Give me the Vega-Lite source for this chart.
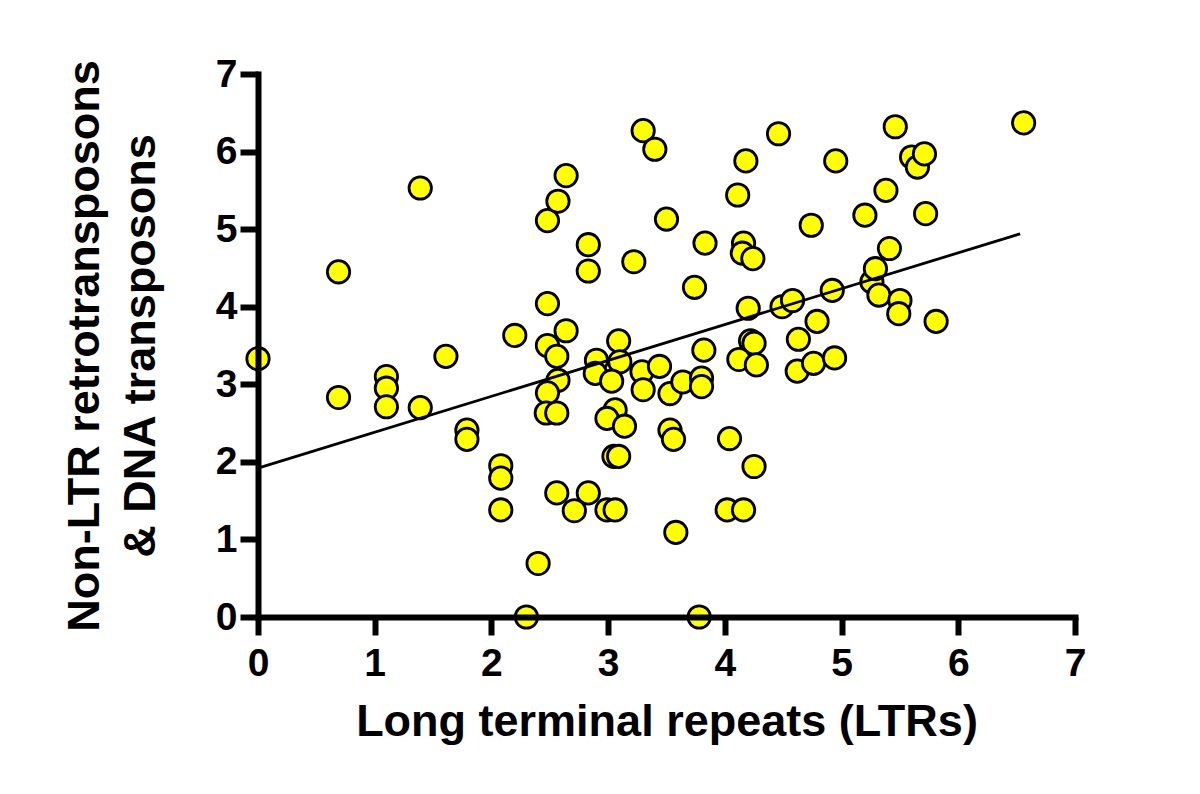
{
  "$schema": "https://vega.github.io/schema/vega-lite/v6.json",
  "width": 817,
  "height": 543,
  "autosize": {"type": "none"},
  "padding": {"left": 258, "top": 74, "right": 125, "bottom": 177},
  "background": "white",
  "config": {"view": {"stroke": null}, "font": "Liberation Sans"},
  "layer": [
    {
      "data": {"values": [
        {"ltr": 0, "nonltr": 3.33},
        {"ltr": 0.69, "nonltr": 4.45},
        {"ltr": 0.69, "nonltr": 2.83},
        {"ltr": 1.10, "nonltr": 3.10},
        {"ltr": 1.10, "nonltr": 2.95},
        {"ltr": 1.10, "nonltr": 2.71},
        {"ltr": 1.39, "nonltr": 5.53},
        {"ltr": 1.39, "nonltr": 2.70},
        {"ltr": 1.61, "nonltr": 3.36},
        {"ltr": 1.79, "nonltr": 2.41},
        {"ltr": 1.79, "nonltr": 2.29},
        {"ltr": 2.08, "nonltr": 1.95},
        {"ltr": 2.08, "nonltr": 1.79},
        {"ltr": 2.08, "nonltr": 1.38},
        {"ltr": 2.20, "nonltr": 3.63},
        {"ltr": 2.30, "nonltr": 0},
        {"ltr": 2.40, "nonltr": 0.69},
        {"ltr": 2.48, "nonltr": 5.11},
        {"ltr": 2.57, "nonltr": 5.36},
        {"ltr": 2.64, "nonltr": 5.69},
        {"ltr": 2.48, "nonltr": 4.04},
        {"ltr": 2.64, "nonltr": 3.69},
        {"ltr": 2.48, "nonltr": 3.50},
        {"ltr": 2.56, "nonltr": 3.36},
        {"ltr": 2.57, "nonltr": 3.05},
        {"ltr": 2.48, "nonltr": 2.89},
        {"ltr": 2.47, "nonltr": 2.63},
        {"ltr": 2.56, "nonltr": 2.63},
        {"ltr": 2.56, "nonltr": 1.60},
        {"ltr": 2.71, "nonltr": 1.37},
        {"ltr": 2.83, "nonltr": 4.80},
        {"ltr": 2.83, "nonltr": 4.46},
        {"ltr": 2.83, "nonltr": 1.60},
        {"ltr": 2.90, "nonltr": 3.31},
        {"ltr": 2.89, "nonltr": 3.14},
        {"ltr": 3.09, "nonltr": 3.56},
        {"ltr": 3.10, "nonltr": 3.29},
        {"ltr": 3.03, "nonltr": 3.04},
        {"ltr": 3.06, "nonltr": 2.67},
        {"ltr": 2.99, "nonltr": 2.56},
        {"ltr": 3.14, "nonltr": 2.46},
        {"ltr": 3.05, "nonltr": 2.07},
        {"ltr": 3.09, "nonltr": 2.07},
        {"ltr": 2.99, "nonltr": 1.38},
        {"ltr": 3.06, "nonltr": 1.38},
        {"ltr": 3.22, "nonltr": 4.58},
        {"ltr": 3.30, "nonltr": 6.27},
        {"ltr": 3.40, "nonltr": 6.03},
        {"ltr": 3.50, "nonltr": 5.13},
        {"ltr": 3.29, "nonltr": 3.16},
        {"ltr": 3.44, "nonltr": 3.23},
        {"ltr": 3.30, "nonltr": 2.93},
        {"ltr": 3.53, "nonltr": 2.88},
        {"ltr": 3.64, "nonltr": 3.03},
        {"ltr": 3.80, "nonltr": 3.08},
        {"ltr": 3.80, "nonltr": 2.97},
        {"ltr": 3.82, "nonltr": 3.44},
        {"ltr": 3.83, "nonltr": 4.82},
        {"ltr": 3.74, "nonltr": 4.25},
        {"ltr": 3.53, "nonltr": 2.41},
        {"ltr": 3.56, "nonltr": 2.29},
        {"ltr": 3.58, "nonltr": 1.09},
        {"ltr": 3.78, "nonltr": 0},
        {"ltr": 4.04, "nonltr": 2.30},
        {"ltr": 4.02, "nonltr": 1.38},
        {"ltr": 4.16, "nonltr": 1.38},
        {"ltr": 4.25, "nonltr": 1.94},
        {"ltr": 4.11, "nonltr": 5.44},
        {"ltr": 4.18, "nonltr": 5.88},
        {"ltr": 4.16, "nonltr": 4.82},
        {"ltr": 4.15, "nonltr": 4.69},
        {"ltr": 4.24, "nonltr": 4.62},
        {"ltr": 4.20, "nonltr": 3.98},
        {"ltr": 4.22, "nonltr": 3.56},
        {"ltr": 4.25, "nonltr": 3.53},
        {"ltr": 4.12, "nonltr": 3.32},
        {"ltr": 4.27, "nonltr": 3.25},
        {"ltr": 4.46, "nonltr": 6.23},
        {"ltr": 4.49, "nonltr": 4.00},
        {"ltr": 4.58, "nonltr": 4.08},
        {"ltr": 4.63, "nonltr": 3.58},
        {"ltr": 4.62, "nonltr": 3.17},
        {"ltr": 4.76, "nonltr": 3.27},
        {"ltr": 4.79, "nonltr": 3.81},
        {"ltr": 4.74, "nonltr": 5.05},
        {"ltr": 4.94, "nonltr": 3.34},
        {"ltr": 4.92, "nonltr": 4.21},
        {"ltr": 4.95, "nonltr": 5.88},
        {"ltr": 5.20, "nonltr": 5.18},
        {"ltr": 5.26, "nonltr": 4.32},
        {"ltr": 5.29, "nonltr": 4.49},
        {"ltr": 5.32, "nonltr": 4.15},
        {"ltr": 5.38, "nonltr": 5.50},
        {"ltr": 5.41, "nonltr": 4.75},
        {"ltr": 5.46, "nonltr": 6.32},
        {"ltr": 5.50, "nonltr": 4.08},
        {"ltr": 5.49, "nonltr": 3.91},
        {"ltr": 5.60, "nonltr": 5.93},
        {"ltr": 5.65, "nonltr": 5.80},
        {"ltr": 5.71, "nonltr": 5.97},
        {"ltr": 5.72, "nonltr": 5.20},
        {"ltr": 5.81, "nonltr": 3.81},
        {"ltr": 6.56, "nonltr": 6.37}
      ]},
      "mark": {"type": "circle", "fill": "#ffff00", "stroke": "#000000", "strokeWidth": 2.8, "size": 500, "opacity": 1, "fillOpacity": 1},
      "encoding": {
        "x": {
          "field": "ltr", "type": "quantitative",
          "scale": {"domain": [0, 7], "nice": false, "zero": true},
          "axis": {
            "title": "Long terminal repeats (LTRs)",
            "values": [0, 1, 2, 3, 4, 5, 6, 7],
            "format": "d",
            "grid": false, "zindex": 1,
            "domainColor": "#000000", "domainWidth": 6, "domainCap": "square",
            "tickColor": "#000000", "tickWidth": 6, "tickSize": 18,
            "labelFontSize": 39, "labelFontWeight": "bold", "labelColor": "#000000", "labelPadding": 9, "labelFlush": false,
            "titleFontSize": 45, "titleFontWeight": "bold", "titleColor": "#000000", "titlePadding": 16
          }
        },
        "y": {
          "field": "nonltr", "type": "quantitative",
          "scale": {"domain": [0, 7], "nice": false, "zero": true},
          "axis": {
            "title": ["Non-LTR retrotransposons", "& DNA transposons"],
            "values": [0, 1, 2, 3, 4, 5, 6, 7],
            "format": "d",
            "grid": false, "zindex": 1,
            "domainColor": "#000000", "domainWidth": 6, "domainCap": "square",
            "tickColor": "#000000", "tickWidth": 6, "tickSize": 18,
            "labelFontSize": 39, "labelFontWeight": "bold", "labelColor": "#000000", "labelPadding": 3, "labelFlush": false,
            "titleFontSize": 45, "titleFontWeight": "bold", "titleColor": "#000000",
            "titleAngle": -90, "titleAlign": "center", "titleBaseline": "alphabetic",
            "titleX": -160, "titleY": 271.5, "titleLineHeight": 56
          }
        }
      }
    },
    {
      "data": {"values": [
        {"ltr": 0, "nonltr": 1.92},
        {"ltr": 6.53, "nonltr": 4.94}
      ]},
      "mark": {"type": "line", "color": "#000000", "strokeWidth": 2.8},
      "encoding": {
        "x": {"field": "ltr", "type": "quantitative"},
        "y": {"field": "nonltr", "type": "quantitative"}
      }
    }
  ]
}
